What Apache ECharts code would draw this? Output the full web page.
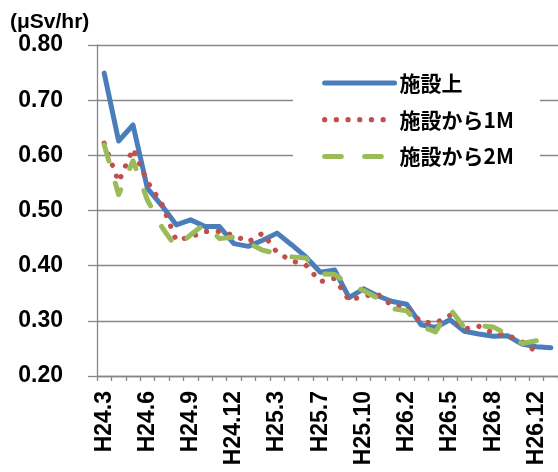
<!DOCTYPE html>
<html>
<head>
<meta charset="utf-8">
<script src="https://cdn.jsdelivr.net/npm/echarts@6/dist/echarts.min.js"></script>
<style>
html,body{margin:0;padding:0;background:#fff;}
#c{width:558px;height:472px;}
</style>
</head>
<body>
<div id="c"></div>
<script>
// Categories (only every third label is displayed)
const categories = ['H24.3','H24.4','H24.5','H24.6','H24.7','H24.8','H24.9','H24.10','H24.11','H24.12',
  'H25.1','H25.2','H25.3','H25.5','H25.6','H25.7','H25.8','H25.9','H25.10','H25.11','H25.12',
  'H26.2','H26.3','H26.4','H26.5','H26.6','H26.7','H26.8','H26.9','H26.10','H26.12','H27.1'];

const seriesNames = ['施設上', '施設から1M', '施設から2M'];

const onFacility = [0.749,0.626,0.655,0.540,0.509,0.474,0.483,0.471,0.471,0.440,
  0.435,0.446,0.459,0.438,0.416,0.388,0.392,0.342,0.358,0.345,0.335,
  0.330,0.293,0.288,0.302,0.281,0.276,0.272,0.273,0.258,0.253,0.251];

const from1M = [0.622,0.552,0.612,0.552,0.512,0.446,0.452,0.462,0.462,0.455,
  0.443,0.459,0.424,0.409,0.401,0.371,0.377,0.337,0.345,0.348,0.327,
  0.323,0.298,0.296,0.310,0.285,0.290,0.278,0.274,0.262,0.244];

const from2M = [0.619,0.529,0.590,0.519,0.470,0.433,0.456,0.476,0.449,0.452,
  0.441,0.428,0.422,0.416,0.414,0.385,0.384,0.366,0.355,0.341,0.322,
  0.318,0.290,0.280,0.322,0.288,0.291,0.289,0.275,0.259,0.264];

const yMin = 0.2, yMax = 0.8, yStep = 0.1;
const yUnit = '(μSv/hr)';

const BLUE = '#4A7EBB', RED = '#C0504D', GREEN = '#9BBB59', AXIS = '#878787';
const latin = '"Liberation Sans", Arial, sans-serif';
const jp = '"Noto Sans CJK JP", sans-serif';

const styles = [
  {color: BLUE, width: 5, type: 'solid', cap: 'round', join: 'round'},
  {color: RED, width: 5.2, type: [0.1, 11.6], cap: 'round', join: 'round'},
  {color: GREEN, width: 5, type: [16.7, 23.3], cap: 'round', join: 'round'}
];
const dataSets = [onFacility, from1M, from2M];

const chart = echarts.init(document.getElementById('c'), null, {renderer: 'canvas'});
chart.setOption({
  animation: false,
  backgroundColor: '#fff',
  grid: {left: 97, top: 45, right: -1, bottom: 96, containLabel: false},
  graphic: [{
    type: 'text', left: 10, top: 12,
    style: {text: yUnit, font: 'bold 21px ' + latin, fill: '#000'}
  }],
  legend: {
    orient: 'vertical',
    left: 293, top: 52,
    padding: [20, 26, 20, 29],
    backgroundColor: '#fff',
    itemWidth: 70, itemHeight: 14, itemGap: 14.7,
    textStyle: {fontSize: 21, fontWeight: 'bold', fontFamily: jp, color: '#000', lineHeight: 22},
    itemStyle: {opacity: 0},
    data: seriesNames.map((n, i) => ({
      name: n,
      itemStyle: {opacity: 0},
      lineStyle: {color: styles[i].color, width: styles[i].width, type: styles[i].type, cap: styles[i].cap}
    }))
  },
  xAxis: {
    type: 'category',
    data: categories,
    boundaryGap: true,
    axisLine: {lineStyle: {color: AXIS, width: 1.3}},
    axisTick: {show: true, interval: 0, length: 5, lineStyle: {color: AXIS, width: 1.3}},
    axisLabel: {interval: 2, rotate: 90, margin: 15, fontSize: 23, fontWeight: 'bold', fontFamily: latin, color: '#000'},
    splitLine: {show: false}
  },
  yAxis: {
    type: 'value',
    min: yMin, max: yMax, interval: yStep,
    axisLine: {show: true, lineStyle: {color: AXIS, width: 1.3}},
    axisTick: {show: true, length: 9, lineStyle: {color: AXIS, width: 1.3}},
    axisLabel: {margin: 34, fontSize: 23, fontWeight: 'bold', fontFamily: latin, color: '#000',
      formatter: v => v.toFixed(2)},
    splitLine: {show: true, lineStyle: {color: AXIS, width: 1.3}}
  },
  series: seriesNames.map((n, i) => ({
    name: n,
    type: 'line',
    data: dataSets[i],
    symbol: 'none',
    smooth: false,
    lineStyle: styles[i]
  }))
});
</script>
</body>
</html>
